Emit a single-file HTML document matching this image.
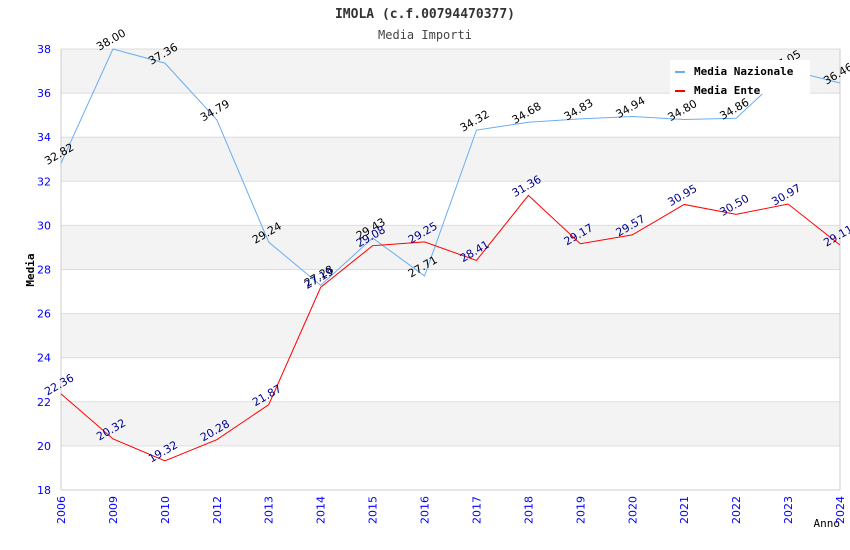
<!DOCTYPE html>
<html><head><meta charset="utf-8"><style>
body{margin:0;background:#fff;}
svg{display:block;font-family:"DejaVu Sans","Liberation Sans",sans-serif;}
</style></head><body>
<svg id="chart" width="850" height="550"></svg>
<script>
const categories=["2006","2009","2010","2012","2013","2014","2015","2016","2017","2018","2019","2020","2021","2022","2023","2024"];
const nazionale=[32.82,38.00,37.36,34.79,29.24,27.28,29.43,27.71,34.32,34.68,34.83,34.94,34.80,34.86,37.05,36.46];
const ente=[22.36,20.32,19.32,20.28,21.87,27.19,29.08,29.25,28.41,31.36,29.17,29.57,30.95,30.50,30.97,29.11];
const yTicks=[18,20,22,24,26,28,30,32,34,36,38];
const NS="http://www.w3.org/2000/svg";
const svg=document.getElementById('chart');
const L=61,R=840,T=49,B=490,yMin=18,yMax=38;
const x=i=>L+i*(R-L)/(categories.length-1);
const y=v=>B-(v-yMin)/(yMax-yMin)*(B-T);
function mk(tag,attrs,parent){const e=document.createElementNS(NS,tag);for(const k in attrs)e.setAttribute(k,attrs[k]);(parent||svg).appendChild(e);return e;}
for(let i=0;i<yTicks.length-1;i++){
 const r=mk('rect',{x:L,y:y(yTicks[i+1]),width:R-L,height:y(yTicks[i])-y(yTicks[i+1]),fill:i%2===0?'#fff':'#f3f3f3'});
 
 
}
yTicks.forEach(v=>{
 const g=mk('line',{x1:L,x2:R,y1:y(v),y2:y(v),stroke:'#ddd','stroke-width':1});
 
 
 const t=mk('text',{x:L-10,y:y(v)+4,'text-anchor':'end','font-size':11,fill:'#00f'});
 t.textContent=v;
 
 
});
mk('line',{x1:L,x2:L,y1:T,y2:B,stroke:'#ccc'});
mk('line',{x1:R,x2:R,y1:T,y2:B,stroke:'#ccc'});
mk('line',{x1:L,x2:R,y1:B,y2:B,stroke:'#ccc'});
categories.forEach((c,i)=>{
 const t=mk('text',{x:0,y:0,'text-anchor':'end','font-size':11,fill:'#00f',transform:`translate(${x(i)+4},${B+6}) rotate(-90)`});
 t.textContent=c;
 
 
});
function series(vals,color,labelColor,name){
 const p=mk('polyline',{points:vals.map((v,i)=>x(i)+','+y(v)).join(' '),fill:'none',stroke:color,'stroke-width':1});
 
 
 vals.forEach((v,i)=>{
  const t=mk('text',{x:0,y:0,'text-anchor':'middle','font-size':11,fill:labelColor,transform:`translate(${x(i)},${y(v)-6}) rotate(-30)`});
  t.textContent=v.toFixed(2);
  
  
 });
}
series(nazionale,'#6aaef0','#000','nazionale');
series(ente,'#f00','#00008b','ente');
</script>
<svg style="position:absolute;left:0;top:0" width="850" height="550">
<text x="425" y="18" text-anchor="middle" font-size="13" font-weight="bold" fill="#333" font-family="DejaVu Sans Mono,monospace">IMOLA (c.f.00794470377)</text>
<text x="425" y="39" text-anchor="middle" font-size="12" fill="#444" font-family="DejaVu Sans Mono,monospace">Media Importi</text>
<text x="0" y="0" transform="translate(34,270) rotate(-90)" text-anchor="middle" font-size="11" font-weight="bold" fill="#000" font-family="DejaVu Sans Mono,monospace">Media</text>
<text x="840" y="527" text-anchor="end" font-size="11" fill="#000" font-family="DejaVu Sans Mono,monospace">Anno</text>
<g>
<rect x="670" y="60" width="140" height="34" fill="#fff"/>
<rect x="675" y="71" width="10" height="2" fill="#6aaef0"/>
<text x="694" y="75" font-size="11" font-weight="bold" fill="#000" font-family="DejaVu Sans Mono,monospace">Media Nazionale</text>
<rect x="675" y="90" width="10" height="2" fill="#f00"/>
<text x="694" y="94" font-size="11" font-weight="bold" fill="#000" font-family="DejaVu Sans Mono,monospace">Media Ente</text>
</g>
</svg>
</body></html>
